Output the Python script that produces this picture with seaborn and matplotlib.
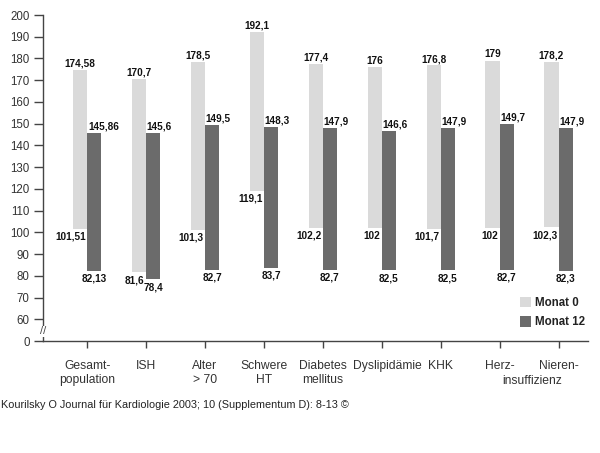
import numpy as np
import pandas as pd
import matplotlib
matplotlib.use("Agg")
import matplotlib.pyplot as plt
import matplotlib.transforms as mtransforms
from matplotlib.patches import Patch
import seaborn as sns

categories = ["Gesamt-\npopulation", "ISH", "Alter\n> 70", "Schwere\nHT",
              "Diabetes\nmellitus", "Dyslipidämie", "KHK", "Herz-", "Nieren-"]
shared_second_line = "insuffizienz"
m0_high = [174.58, 170.7, 178.5, 192.1, 177.4, 176, 176.8, 179, 178.2]
m0_low = [101.51, 81.6, 101.3, 119.1, 102.2, 102, 101.7, 102, 102.3]
m12_high = [145.86, 145.6, 149.5, 148.3, 147.9, 146.6, 147.9, 149.7, 147.9]
m12_low = [82.13, 78.4, 82.7, 83.7, 82.7, 82.5, 82.5, 82.7, 82.3]
series_names = ["Monat 0", "Monat 12"]
ytick_values = list(range(50, 201, 10))
ytick_labels = ["0"] + [str(v) for v in range(60, 201, 10)]
source = "Kourilsky O Journal für Kardiologie 2003; 10 (Supplementum D): 8-13 ©"

c0 = "#dadada"
c12 = "#6b6b6b"
axis_col = "#444444"
text_col = "#333333"

sns.set_theme(style="ticks")
plt.rcParams["font.family"] = ["Liberation Sans", "DejaVu Sans"]

fig = plt.figure(figsize=(6, 4.53), dpi=100)
ax = fig.add_axes([43 / 600, 112 / 453, 545 / 600, 326 / 453])

idx = np.arange(len(categories))
off = 0.12
fmt = lambda v: f"{v:g}".replace(".", ",")

df0 = pd.DataFrame({"pos": idx - off, "span": np.array(m0_high) - np.array(m0_low)})
df12 = pd.DataFrame({"pos": idx + off, "span": np.array(m12_high) - np.array(m12_low)})

sns.barplot(data=df0, x="pos", y="span", bottom=m0_low, native_scale=True,
            orient="x", width=0.24, color=c0, saturation=1, linewidth=0,
            errorbar=None, ax=ax)
sns.barplot(data=df12, x="pos", y="span", bottom=m12_low, native_scale=True,
            orient="x", width=0.24, color=c12, saturation=1, linewidth=0,
            errorbar=None, ax=ax)

lab_kw = dict(fontsize=7.2, fontweight="bold", color="#111111")
for i in idx:
    ax.annotate(fmt(m0_high[i]), (i - off, m0_high[i]), xytext=(0, 1),
                textcoords="offset points", ha="center", va="bottom", **lab_kw)
    ax.annotate(fmt(m0_low[i]), (i, m0_low[i]), xytext=(-1, -2),
                textcoords="offset points", ha="right", va="top", **lab_kw)
    ax.annotate(fmt(m12_high[i]), (i, m12_high[i]), xytext=(0.5, 1),
                textcoords="offset points", ha="left", va="bottom", **lab_kw)
    ax.annotate(fmt(m12_low[i]), (i + off, m12_low[i]), xytext=(0, -2),
                textcoords="offset points", ha="center", va="top", **lab_kw)

ax.set_xlim(-0.75, 8.5)
ax.set_ylim(50, 200)
ax.set_xticks(idx, categories)
ax.set_yticks(ytick_values, ytick_labels)
ax.set_xlabel("")
ax.set_ylabel("")

for s in ["top", "right"]:
    ax.spines[s].set_visible(False)
for s in ["left", "bottom"]:
    ax.spines[s].set_color(axis_col)
    ax.spines[s].set_linewidth(1)

ax.tick_params(axis="y", direction="out", length=6.5, width=1, color=axis_col,
               pad=3, labelsize=8.3, labelcolor=text_col)
ax.tick_params(axis="x", direction="out", length=5, width=1, color=axis_col,
               pad=8.5, labelsize=8.7, labelcolor=text_col)

# Dyslipidämie label sits slightly right of its tick in the original
dys = ax.get_xticklabels()[5]
dys.set_transform(dys.get_transform() +
                  mtransforms.ScaledTranslation(6 / 100, 0, fig.dpi_scale_trans))

# shared second line for Herz-/Nieren-insuffizienz
ax.annotate(shared_second_line, xy=(7.55, 0), xycoords=("data", "axes fraction"),
            xytext=(0, -24.5), textcoords="offset points", ha="center", va="top",
            fontsize=8.7, color=text_col)

# axis break mark
ax.text(0, 54.5, "//", transform=ax.get_yaxis_transform(), ha="center",
        va="center", fontsize=8, color=axis_col,
        bbox=dict(facecolor="white", edgecolor="none", pad=0.5))

ax.legend(handles=[Patch(facecolor=c0, edgecolor="none"),
                   Patch(facecolor=c12, edgecolor="none")],
          labels=series_names, loc="upper left", bbox_to_anchor=(0.875, 0.136),
          frameon=False, handlelength=1.0, handleheight=1.0, handletextpad=0.35,
          labelspacing=0.65, borderaxespad=0, borderpad=0,
          prop=dict(size=8.3, weight="bold"))
for t in ax.get_legend().get_texts():
    t.set_color("#222222")

fig.text(0.002, (453 - 405) / 453, source, ha="left", va="center",
         fontsize=7.85, color="#222222")

fig.savefig("out.png", dpi=100, facecolor="white")
